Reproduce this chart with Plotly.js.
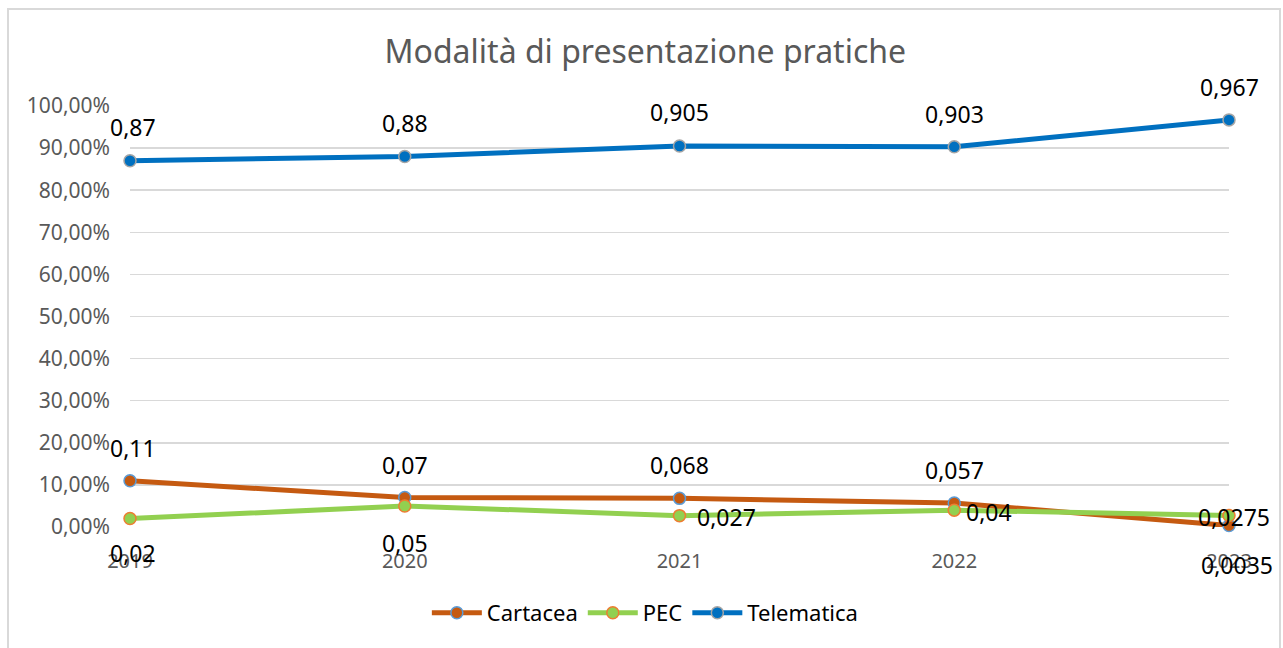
<!DOCTYPE html>
<html>
<head>
<meta charset="utf-8">
<script src="https://cdn.plot.ly/plotly-3.0.1.min.js"></script>
<style>
  html, body { margin: 0; padding: 0; background: #fff; }
  #wrap { position: relative; width: 1283px; height: 648px; overflow: hidden; }
  #frame { position: absolute; left: 7px; top: 8px; width: 1274px; height: 660px; border: 2px solid #D9D9D9; box-sizing: border-box; pointer-events: none; }
  #chart { position: absolute; left: 0; top: 0; width: 1283px; height: 648px; }
</style>
</head>
<body>
<div id="wrap">
  <div id="chart"></div>
  <div id="frame"></div>
</div>
<script>
const years = [2019, 2020, 2021, 2022, 2023];
const yearLabels = ['2019', '2020', '2021', '2022', '2023'];
const cartacea = [0.11, 0.07, 0.068, 0.057, 0.0035];
const pec = [0.02, 0.05, 0.027, 0.04, 0.0275];
const telematica = [0.87, 0.88, 0.905, 0.903, 0.967];
const yTicks = [0, 0.1, 0.2, 0.3, 0.4, 0.5, 0.6, 0.7, 0.8, 0.9, 1.0];

// label placement per point: [xshift, yshift]
const cartaceaPos = [[3, 33], [0, 33], [0, 33], [0, 33], [8, -39]];
const pecPos = [[3, -34], [0, -37], [47, -1], [35, -2], [5, -2]];
const telematicaPos = [[3, 34], [0, 34], [0, 34], [0, 33], [0, 33]];

const FONT = "'Noto Sans', 'Open Sans', sans-serif";
const fmt = v => String(v).replace('.', ',');

function series(name, ys, lineColor, markerColor, outline) {
  return {
    type: 'scatter', mode: 'lines+markers', name: name,
    x: years, y: ys,
    line: { color: lineColor, width: 5 },
    marker: { color: markerColor, size: 12, line: { color: outline, width: 1.5 } },
    cliponaxis: false,
    hoverinfo: 'x+y'
  };
}

const traces = [
  series('Cartacea', cartacea, '#C55A11', '#C55A11', '#5B9BD5'),
  series('PEC', pec, '#92D050', '#92D050', '#ED7D31'),
  series('Telematica', telematica, '#0070C0', '#0070C0', '#A5A5A5')
];

const annotations = [];
function addLabels(ys, pos) {
  ys.forEach((v, i) => {
    annotations.push({
      x: years[i], y: v, xref: 'x', yref: 'y',
      text: fmt(v), showarrow: false,
      xshift: pos[i][0], yshift: pos[i][1],
      font: { family: FONT, size: 23, color: '#000000' }
    });
  });
}
addLabels(cartacea, cartaceaPos);
addLabels(pec, pecPos);
addLabels(telematica, telematicaPos);

const layout = {
  width: 1283, height: 648,
  margin: { l: 130, r: 54, t: 106, b: 121 },
  paper_bgcolor: 'rgba(0,0,0,0)', plot_bgcolor: '#ffffff',
  separators: ',.',
  font: { family: FONT, color: '#595959' },
  title: {
    text: 'Modalità di presentazione pratiche',
    x: 0.503, xref: 'container', xanchor: 'center',
    y: 1 - 52 / 648, yref: 'container', yanchor: 'middle',
    font: { family: FONT, size: 32, color: '#595959' }
  },
  xaxis: {
    range: [2019, 2023], tickvals: years, ticktext: yearLabels,
    showgrid: false, zeroline: false, showline: false, ticks: '',
    tickfont: { family: FONT, size: 20, color: '#595959' },
    ticklabelstandoff: 20, fixedrange: true
  },
  yaxis: {
    range: [0, 1.0], tickvals: yTicks, tickformat: '.2%',
    showgrid: true, gridcolor: '#D9D9D9', gridwidth: 1.5,
    zeroline: false, showline: false, ticks: '',
    tickfont: { family: FONT, size: 21, color: '#595959' },
    ticklabelstandoff: 19, fixedrange: true
  },
  showlegend: true,
  legend: {
    orientation: 'h', xref: 'container', x: 0.503, xanchor: 'center',
    yref: 'container', y: 1 - 613 / 648, yanchor: 'middle',
    font: { family: FONT, size: 22, color: '#000000' },
    itemwidth: 50, entrywidth: 0, bgcolor: 'rgba(0,0,0,0)',
    tracegroupgap: 0
  },
  annotations: annotations
};

Plotly.newPlot('chart', traces, layout, { displayModeBar: false, staticPlot: true });
</script>
</body>
</html>
